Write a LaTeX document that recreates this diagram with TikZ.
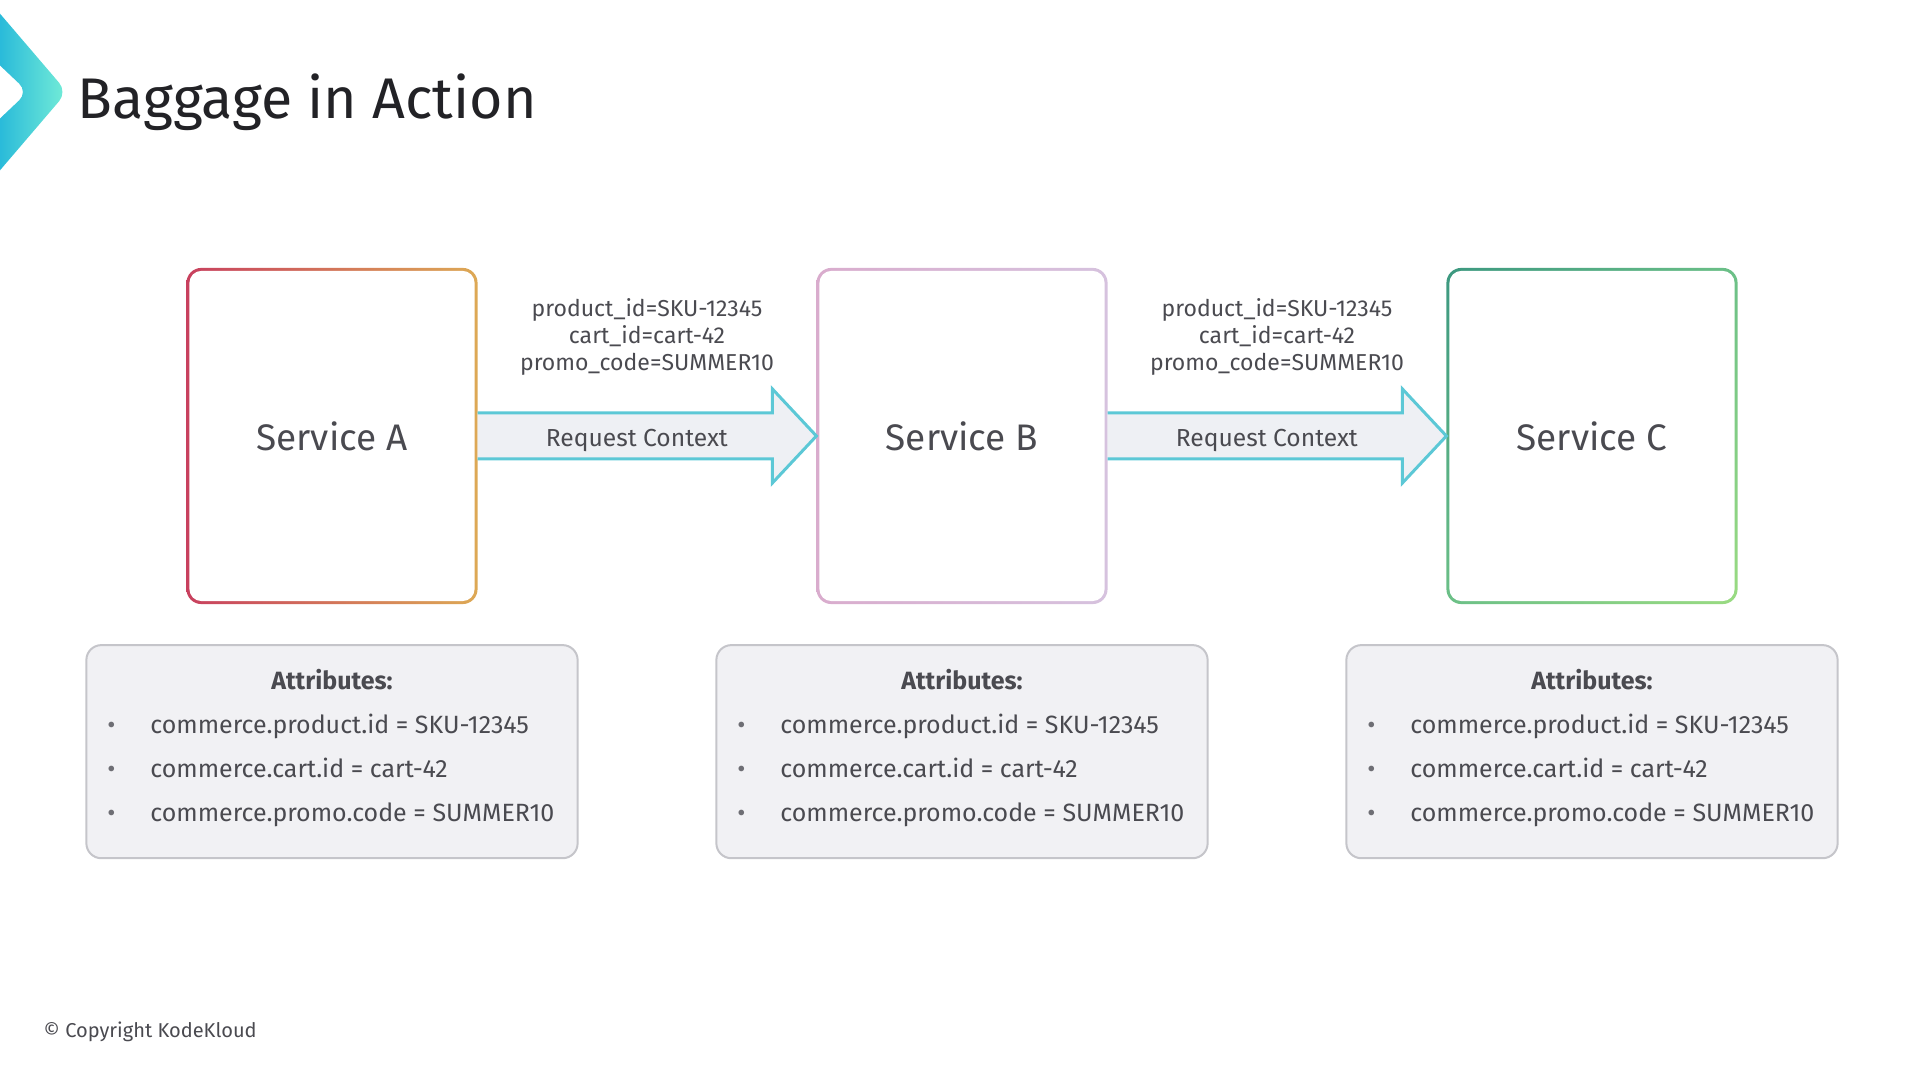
\documentclass[tikz,border=0pt]{standalone}
\usepackage{fontspec}
\setmainfont{Fira Sans}
\usetikzlibrary{positioning, calc, backgrounds, shadings}
\definecolor{LogoBlue}{HTML}{1FB3DA}
\definecolor{LogoMint}{HTML}{74EDD7}
\definecolor{TitleInk}{HTML}{222226}
\definecolor{TextGray}{HTML}{4A4A50}
\definecolor{BulletGray}{HTML}{6E6E74}
\definecolor{CtxCyan}{HTML}{5CC8D6}
\definecolor{CtxFill}{HTML}{EEF0F4}
\definecolor{AttrFill}{HTML}{F1F1F4}
\definecolor{AttrLine}{HTML}{C5C5CA}
\definecolor{RedA}{HTML}{C8405E}
\definecolor{GoldA}{HTML}{DDA955}
\definecolor{PinkB}{HTML}{D9ACCD}
\definecolor{LilacB}{HTML}{D6C2DE}
\definecolor{TealC}{HTML}{3C9880}
\definecolor{MidC}{HTML}{6CC087}
\definecolor{LimeC}{HTML}{9ADB82}
\tikzset{
  titletext/.style={font=\fontsize{16.3pt}{19pt}\selectfont, text=TitleInk, inner sep=0pt},
  svcbox/.style={minimum width=2.91cm, minimum height=3.36cm, inner sep=0pt, outer sep=0pt, font=\fontsize{10.5pt}{12pt}\selectfont, text=TextGray},
  svcinner/.style={fill=white, rounded corners=1.2mm},
  ctxarrow/.style={draw=CtxCyan, fill=CtxFill, line width=0.3mm, line join=miter},
  ctxlabel/.style={font=\fontsize{7pt}{8pt}\selectfont, text=TextGray, inner sep=0pt},
  bagtext/.style={font=\fontsize{6.55pt}{7.7pt}\selectfont, text=TextGray, align=center, inner sep=0pt},
  attrbox/.style={draw=AttrLine, line width=0.2mm, fill=AttrFill, rounded corners=1.5mm, minimum width=4.91cm, minimum height=2.13cm, inner sep=0pt, align=left, text depth=1.3mm, font=\fontsize{7.1pt}{12.5pt}\selectfont, text=TextGray},
  copyright/.style={font=\fontsize{5.7pt}{7pt}\selectfont, text=TextGray, inner sep=0pt}
}
\newcommand{\attrhead}{\makebox[4.85cm][c]{\bfseries Attributes:}}
\newcommand{\attritem}[1]{\makebox[4.85cm][l]{\hspace{1.8mm}\makebox[4.3mm][l]{\textcolor{BulletGray}{\textbullet}}#1}}
\newcommand{\attrlist}{\attrhead\\\attritem{commerce.product.id = SKU-12345}\\\attritem{commerce.cart.id = cart-42}\\\attritem{commerce.promo.code = SUMMER10}}
\newcommand{\baggagelist}{product\_id=SKU-12345\\cart\_id=cart-42\\promo\_code=SUMMER10}

\begin{document}
\begin{tikzpicture}[x=0.01cm, y=-0.01cm]
\useasboundingbox (0,0) rectangle (1920,1080);
% logo and title
\shade[left color=LogoBlue, right color=LogoMint, rounded corners=1.2mm] (-10,2) -- (67,92) -- (-10,182) -- (-10,128) -- (28,92) -- (-10,56) -- cycle;
\node[titletext, anchor=base west] (title) at (77,119) {Baggage in Action};

% services
\node[svcbox] (svcA) at (332,436) {Service A};
\node[svcbox] (svcB) at (962,436) {Service B};
\node[svcbox] (svcC) at (1592,436) {Service C};
\begin{scope}[on background layer]
\shade[rounded corners=1.5mm, left color=RedA, right color=GoldA] (svcA.south west) rectangle (svcA.north east);
\fill[svcinner] ([shift={(0.3mm,0.3mm)}]svcA.south west) rectangle ([shift={(-0.3mm,-0.3mm)}]svcA.north east);
\shade[rounded corners=1.5mm, left color=PinkB, right color=LilacB] (svcB.south west) rectangle (svcB.north east);
\fill[svcinner] ([shift={(0.3mm,0.3mm)}]svcB.south west) rectangle ([shift={(-0.3mm,-0.3mm)}]svcB.north east);
\shade[rounded corners=1.5mm, upper left=TealC, upper right=MidC, lower left=MidC, lower right=LimeC] (svcC.south west) rectangle (svcC.north east);
\fill[svcinner] ([shift={(0.3mm,0.3mm)}]svcC.south west) rectangle ([shift={(-0.3mm,-0.3mm)}]svcC.north east);
\end{scope}

% request context arrows
\path[ctxarrow] ($(svcA.east)+(0,-23)$) -- ($(svcB.west)+(-44,-23)$) -- ($(svcB.west)+(-44,-47)$) -- (svcB.west) -- ($(svcB.west)+(-44,47)$) -- ($(svcB.west)+(-44,23)$) -- ($(svcA.east)+(0,23)$);
\path[ctxarrow] ($(svcB.east)+(0,-23)$) -- ($(svcC.west)+(-44,-23)$) -- ($(svcC.west)+(-44,-47)$) -- (svcC.west) -- ($(svcC.west)+(-44,47)$) -- ($(svcC.west)+(-44,23)$) -- ($(svcB.east)+(0,23)$);
\node[ctxlabel] (ctxAB) at ($(svcA.east)!0.47!(svcB.west)+(0,5)$) {Request Context};
\node[ctxlabel] (ctxBC) at ($(svcB.east)!0.47!(svcC.west)+(0,5)$) {Request Context};
\node[bagtext] (bagAB) at ($(svcA.east)!0.5!(svcB.west)+(0,-99)$) {\baggagelist};
\node[bagtext] (bagBC) at ($(svcB.east)!0.5!(svcC.west)+(0,-99)$) {\baggagelist};

% attribute boxes
\node[attrbox, below=4mm of svcA] (attrA) {\attrlist};
\node[attrbox, below=4mm of svcB] (attrB) {\attrlist};
\node[attrbox, below=4mm of svcC] (attrC) {\attrlist};

\node[copyright, anchor=west] (copy) at (43,1032) {© Copyright KodeKloud};
\end{tikzpicture}
\end{document}
